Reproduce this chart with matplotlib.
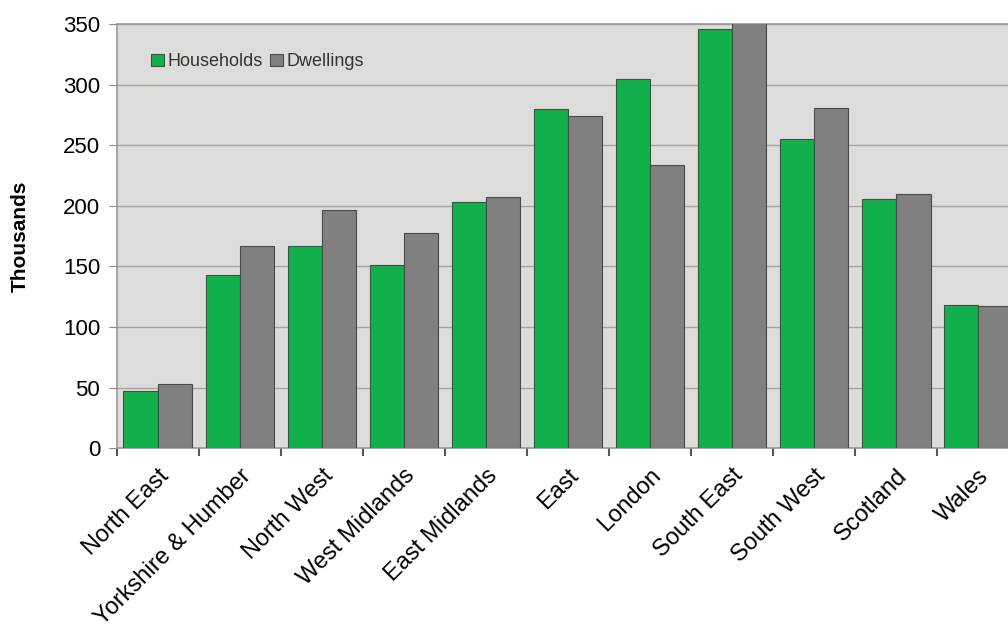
import matplotlib.pyplot as plt
import numpy as np

plt.rcParams['font.family'] = ['Liberation Sans', 'DejaVu Sans']

regions = ["North East", "Yorkshire & Humber", "North West", "West Midlands",
           "East Midlands", "East", "London", "South East", "South West",
           "Scotland", "Wales"]
households = [47, 143, 167, 151, 203, 280, 305, 346, 255, 206, 118]
dwellings = [53, 167, 197, 178, 207, 274, 234, 352, 281, 210, 117]

green = '#12b04b'
grey = '#808080'

fig = plt.figure(figsize=(10.08, 6.24), dpi=100)
# plot area runs off the right edge of the canvas
ax = fig.add_axes([0.116, 0.282, 0.895, 0.679])
ax.set_facecolor('#dcdcda')

x = np.arange(len(regions))
w = 0.42
ax.bar(x - w / 2, households, w, color=green, edgecolor='#4a4a4a', linewidth=0.8,
       label='Households', zorder=3)
ax.bar(x + w / 2, dwellings, w, color=grey, edgecolor='#4a4a4a', linewidth=0.8,
       label='Dwellings', zorder=3)

ax.set_xlim(-0.5, len(regions) - 0.5)
ax.set_ylim(0, 350)
ax.set_yticks(np.arange(0, 351, 50))
ax.yaxis.grid(True, color='#a4a4a4', linewidth=1.0, zorder=0)
ax.tick_params(axis='y', labelsize=16, length=6, color='#888888', pad=6)

ax.set_xticks(x)
ax.set_xticklabels(regions, rotation=45, ha='right', rotation_mode='anchor', fontsize=17)
ax.tick_params(axis='x', which='major', length=0, pad=12)
ax.set_xticks(np.arange(-0.5, len(regions), 1), minor=True)
ax.tick_params(axis='x', which='minor', length=6, width=1.5, color='#555555')

for side in ['left', 'top', 'bottom']:
    ax.spines[side].set_color('#999999')
    ax.spines[side].set_linewidth(1.2)
ax.spines['right'].set_visible(False)

ax.set_ylabel('Thousands', fontsize=15, fontweight='bold', labelpad=24)

ax.legend(loc='upper left', ncol=2, frameon=False, fontsize=13,
          handlelength=0.7, handleheight=0.7, handletextpad=0.2,
          columnspacing=0.4, bbox_to_anchor=(0.02, 0.97), labelcolor='#333333')

fig.savefig('out.png', dpi=100)
